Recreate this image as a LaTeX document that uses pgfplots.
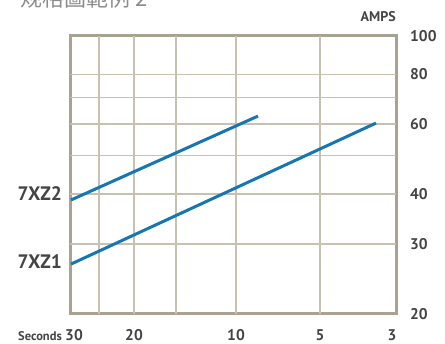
\documentclass[border=0pt]{standalone}
\usepackage{fontspec}
\setmainfont{PT Sans}
\newfontfamily\cjk{Noto Sans CJK SC}
\usepackage{pgfplots}
\pgfplotsset{compat=1.18}
\definecolor{framec}{RGB}{170,162,145}
\definecolor{gridc}{RGB}{200,193,178}
\definecolor{linec}{RGB}{22,118,178}
\definecolor{txt}{RGB}{68,68,68}
\definecolor{titlec}{RGB}{140,140,140}
\begin{document}
\begin{tikzpicture}[x=1pt,y=1pt]
\useasboundingbox (0,0) rectangle (445,344);
\begin{axis}[
  at={(70pt,30pt)}, anchor=south west,
  scale only axis, width=326pt, height=278pt,
  xmin=0, xmax=326,
  ymode=log, ymin=20, ymax=100,
  axis line style={draw=framec, line width=3pt},
  major tick length=0pt,
  xtick={4,64,166,250,322},
  xticklabels={30,20,10,5,3},
  extra x ticks={29,64,106,166,250},
  extra x tick labels={},
  extra x tick style={grid=major, major tick length=0pt},
  ytick={20,30,40,60,80,100},
  yticklabels={20,30,40,60,80,100},
  extra y ticks={30,40,50,60,70,80},
  extra y tick labels={},
  extra y tick style={grid=major, major tick length=0pt},
  major grid style={draw=gridc, line width=1.5pt},
  yticklabel pos=right,
  yticklabel style={anchor=west, inner sep=0pt, xshift=14pt, font=\bfseries\fontsize{15.5}{15.5}\selectfont, text=txt},
  xticklabel style={anchor=base, inner sep=0pt, yshift=-27pt, font=\bfseries\fontsize{15.5}{15.5}\selectfont, text=txt},
]
\addplot[draw=linec, line width=3pt] coordinates {(1,38.7) (188,62.9)};
\addplot[draw=linec, line width=3pt] coordinates {(1,26.7) (306,60.4)};
\end{axis}
\node[anchor=base east, inner sep=0pt, text=txt, font=\bfseries\fontsize{12.5}{12.5}\selectfont] at (62,3) {Seconds};
\node[anchor=base east, inner sep=0pt, text=txt, font=\bfseries\fontsize{14}{14}\selectfont] at (396,322) {AMPS};
\node[anchor=base east, inner sep=0pt, text=txt, font=\bfseries\fontsize{19.5}{19.5}\selectfont] at (62,143) {7XZ2};
\node[anchor=base east, inner sep=0pt, text=txt, font=\bfseries\fontsize{19.5}{19.5}\selectfont] at (62,75) {7XZ1};
\node[anchor=base west, inner sep=0pt, text=titlec, font=\fontsize{22}{22}\selectfont] at (20,337) {\cjk 规格圖範例 2};
\end{tikzpicture}
\end{document}
